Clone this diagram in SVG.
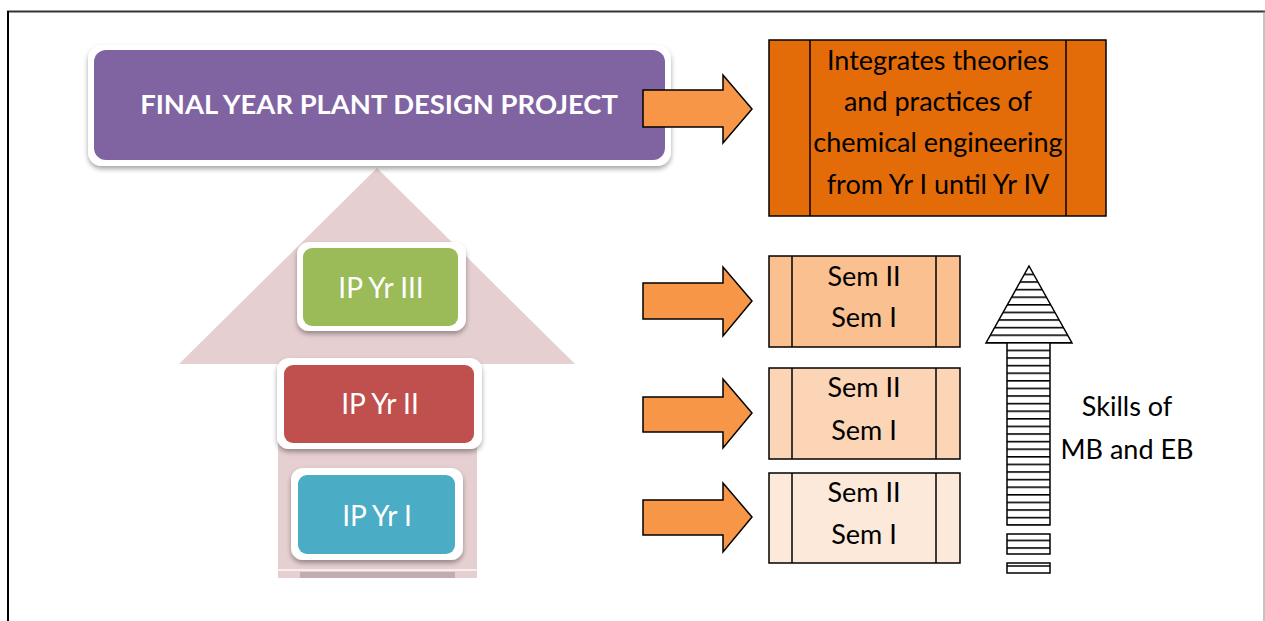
<svg xmlns="http://www.w3.org/2000/svg" width="1265" height="621" viewBox="0 0 1265 621">
<defs>
<style>
.lbl{font-family:Lato,"Open Sans","Liberation Sans",sans-serif;fill:#fff;text-anchor:middle;dominant-baseline:central}
.txt{font-family:Lato,"Open Sans","Liberation Sans",sans-serif;fill:#000;text-anchor:middle;font-size:27px}
.oarrow{fill:#f79646;stroke:#000;stroke-width:1.5;stroke-linejoin:miter}
.sbox{stroke:#000;stroke-width:1.5}
.wb{fill:#fff}
</style>
<filter id="sh" x="-10%" y="-10%" width="120%" height="130%">
<feDropShadow dx="0" dy="3" stdDeviation="2.5" flood-color="#000" flood-opacity="0.35"/>
</filter>
<pattern id="hz" patternUnits="userSpaceOnUse" width="10" height="7.6">
<rect width="10" height="7.6" fill="#fff"/>
<rect y="0" width="10" height="1.6" fill="#000"/>
</pattern>
</defs>
<rect width="1265" height="621" fill="#fff"/>
<!-- page frame -->
<line x1="7" y1="11.5" x2="1265" y2="11.5" stroke="#333" stroke-width="2"/>
<line x1="8" y1="11" x2="8" y2="621" stroke="#000" stroke-width="2"/>
<line x1="1264" y1="11" x2="1264" y2="621" stroke="#888" stroke-width="1"/>

<!-- big background arrow -->
<g id="bg-arrow">
<polygon points="377,168 575,364 477,364 477,578 278,578 278,364 179,364" fill="#e6cfd0"/>
<rect x="278" y="569" width="199" height="2" fill="#f6eeee"/>
<rect x="300" y="572" width="155" height="6" fill="#b9a3a4" opacity="0.8"/>
</g>

<g id="final-project">
<rect x="88" y="45" width="583" height="121" rx="14" class="wb" filter="url(#sh)"/>
<rect x="94" y="50" width="571" height="110" rx="12" fill="#8064a2"/>
<text x="379" y="103" class="lbl" font-size="27.4" font-weight="bold">FINAL YEAR PLANT DESIGN PROJECT</text>
</g>

<g id="ip-yr-3">
<rect x="297" y="242" width="169" height="89" rx="12" class="wb" filter="url(#sh)"/>
<rect x="303" y="248" width="155" height="78" rx="9" fill="#9bbb59"/>
<text x="381" y="287" class="lbl" font-size="28">IP Yr III</text>
</g>

<g id="ip-yr-2">
<rect x="277" y="358" width="205" height="91" rx="12" class="wb" filter="url(#sh)"/>
<rect x="284" y="365" width="190" height="78" rx="9" fill="#c0504d"/>
<text x="380" y="403" class="lbl" font-size="28">IP Yr II</text>
</g>

<g id="ip-yr-1">
<rect x="291" y="468" width="172" height="92" rx="12" class="wb" filter="url(#sh)"/>
<rect x="298" y="475" width="157" height="79" rx="9" fill="#4bacc6"/>
<text x="377" y="515" class="lbl" font-size="28">IP Yr I</text>
</g>

<g id="connectors">
<polygon class="oarrow" points="643,90 723,90 723,75 752,109 723,143 723,127 643,127"/>
<polygon class="oarrow" points="643,283 723,283 723,267 752,301 723,336 723,319 643,319"/>
<polygon class="oarrow" points="643,397 723,397 723,379 752,413 723,448 723,432 643,432"/>
<polygon class="oarrow" points="643,500 723,500 723,483 752,517 723,552 723,535 643,535"/>
</g>

<g id="integrates">
<rect x="769" y="40" width="337" height="176" fill="#e36c09" class="sbox"/>
<line x1="810" y1="40" x2="810" y2="216" stroke="#000" stroke-width="1.5"/>
<line x1="1066" y1="40" x2="1066" y2="216" stroke="#000" stroke-width="1.5"/>
<text class="txt" x="938" y="69.5">Integrates theories</text>
<text class="txt" x="938" y="110.5">and practices of</text>
<text class="txt" x="938" y="151.5">chemical engineering</text>
<text class="txt" x="938" y="193.5">from Yr I until Yr IV</text>
</g>

<g id="sem-yr3">
<rect x="769" y="256" width="191" height="91" fill="#fac090" class="sbox"/>
<line x1="792" y1="256" x2="792" y2="347" stroke="#000" stroke-width="1.5"/>
<line x1="936" y1="256" x2="936" y2="347" stroke="#000" stroke-width="1.5"/>
<text class="txt" x="864" y="286">Sem II</text>
<text class="txt" x="864" y="327">Sem I</text>
</g>

<g id="sem-yr2">
<rect x="769" y="368" width="191" height="91" fill="#fbd5b5" class="sbox"/>
<line x1="792" y1="368" x2="792" y2="459" stroke="#000" stroke-width="1.5"/>
<line x1="936" y1="368" x2="936" y2="459" stroke="#000" stroke-width="1.5"/>
<text class="txt" x="864" y="397">Sem II</text>
<text class="txt" x="864" y="440">Sem I</text>
</g>

<g id="sem-yr1">
<rect x="769" y="473" width="191" height="90" fill="#fde9d9" class="sbox"/>
<line x1="792" y1="473" x2="792" y2="563" stroke="#000" stroke-width="1.5"/>
<line x1="936" y1="473" x2="936" y2="563" stroke="#000" stroke-width="1.5"/>
<text class="txt" x="864" y="502">Sem II</text>
<text class="txt" x="864" y="544">Sem I</text>
</g>

<g id="skills-arrow">
<polygon points="1029,266 1072,343 1050,343 1050,525 1007,525 1007,343 986,343" fill="url(#hz)" stroke="#000" stroke-width="1.5"/>
<rect x="1007" y="534" width="43" height="20" fill="url(#hz)" stroke="#000" stroke-width="1.5"/>
<rect x="1007" y="563" width="43" height="10" fill="#fff" stroke="#000" stroke-width="1.5"/>
<line x1="1007" y1="566" x2="1050" y2="566" stroke="#000" stroke-width="1.5"/>
<text class="txt" x="1127" y="416">Skills of</text>
<text class="txt" x="1127" y="459">MB and EB</text>
</g>
</svg>
